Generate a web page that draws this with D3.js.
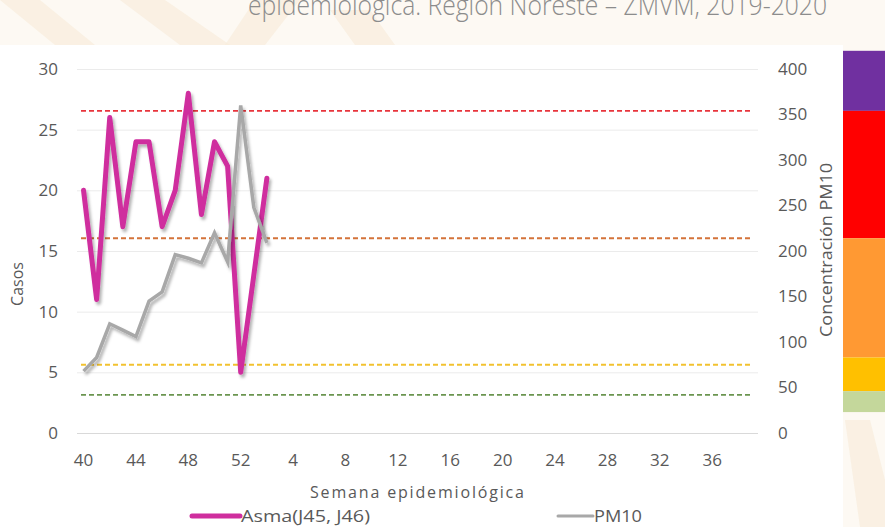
<!DOCTYPE html>
<html>
<head>
<meta charset="utf-8">
<script src="https://cdn.jsdelivr.net/npm/d3@7"></script>
<style>
  html, body { margin: 0; padding: 0; background: #fff; }
  svg { display: block; font-family: "Open Sans", sans-serif; }
</style>
</head>
<body>
<svg id="canvas"></svg>
<script>
// ---- data ----
const weeks = [40, 41, 42, 43, 44, 45, 46, 47, 48, 49, 50, 51, 52,
  1, 2, 3, 4, 5, 6, 7, 8, 9, 10, 11, 12, 13, 14, 15, 16, 17, 18, 19, 20,
  21, 22, 23, 24, 25, 26, 27, 28, 29, 30, 31, 32, 33, 34, 35, 36, 37, 38, 39];
// casos de asma, semana 40 (2019) a semana 2 (2020)
const asma = [20, 11, 26, 17, 24, 24, 17, 20, 28, 18, 24, 22, 5, 13, 21];
// concentracion PM10, mismas semanas
const pm10 = [68, 83, 120, 113, 106, 145, 155, 196, 192, 187, 220, 188, 360, 248, 209];
const casosTicks = [0, 5, 10, 15, 20, 25, 30];
const pmTicks = [0, 50, 100, 150, 200, 250, 300, 350, 400];
// umbrales PM10 (lineas punteadas, eje derecho)
const umbrales = [354, 214, 75, 42];
const umbralColors = ["#e8343c", "#d4733a", "#f2c230", "#6b9550"];
// franjas de color a la derecha (cortes aproximados)
const bandStops = [420, 354, 214, 83, 46, 23];
const bandColors = ["#7030a0", "#ff0000", "#ff9933", "#ffc000", "#c4d79b"];

const W = 885, H = 527;
const svg = d3.select("#canvas").attr("width", W).attr("height", H);

// fondo + marca de agua
svg.append("rect").attr("width", W).attr("height", H).attr("fill", "#fdf9f3");
const wm = [
  [[0, 0], [40, 0], [95, 45], [55, 45]],
  [[120, 0], [165, 0], [230, 45], [180, 45]],
  [[255, 0], [300, 0], [265, 45], [225, 45]],
  [[330, 10], [370, 10], [395, 45], [355, 45]],
  [[845, 420], [870, 420], [885, 480], [885, 527], [860, 527]]
];
svg.selectAll("polygon.wm").data(wm).enter().append("polygon")
  .attr("class", "wm")
  .attr("points", d => d.map(p => p.join(",")).join(" "))
  .attr("fill", "#f8eddc").attr("opacity", 0.7);
svg.append("rect").attr("x", 0).attr("y", 45).attr("width", 843).attr("height", H - 45).attr("fill", "#ffffff");

// titulo (cortado arriba, como en la diapositiva)
svg.append("text")
  .attr("x", 248).attr("y", 15)
  .attr("textLength", 579).attr("lengthAdjust", "spacingAndGlyphs")
  .attr("font-size", 28).attr("font-weight", 300).attr("fill", "#8c8c8c")
  .text("epidemiológica. Región Noreste – ZMVM, 2019-2020");

// escalas
const x = d3.scaleBand().domain(d3.range(weeks.length)).range([77, 758]);
const xc = i => x(i) + x.bandwidth() / 2;
const yL = d3.scaleLinear().domain([0, 30]).range([433, 69]);
const yR = d3.scaleLinear().domain([0, 400]).range([433, 69]);

// franjas de color a la derecha
const bandData = bandColors.map((c, i) => ({ c, top: bandStops[i], bot: bandStops[i + 1] }));
svg.selectAll("rect.band").data(bandData).enter().append("rect")
  .attr("class", "band")
  .attr("x", 843).attr("width", W - 843)
  .attr("y", d => yR(d.top)).attr("height", d => yR(d.bot) - yR(d.top))
  .attr("fill", d => d.c);

// lineas de cuadricula
svg.append("g").selectAll("line").data(casosTicks).enter().append("line")
  .attr("x1", 77).attr("x2", 758)
  .attr("y1", d => yL(d) + 0.5).attr("y2", d => yL(d) + 0.5)
  .attr("stroke", d => d === 0 ? "#d9d9d9" : "#ebebeb").attr("stroke-width", 1);

// umbrales punteados
svg.append("g").selectAll("line").data(umbrales).enter().append("line")
  .attr("x1", 81).attr("x2", 751)
  .attr("y1", d => yR(d)).attr("y2", d => yR(d))
  .attr("stroke", (d, i) => umbralColors[i]).attr("stroke-width", 1.8)
  .attr("stroke-dasharray", "5,3");

// ejes
const tickColor = "#595959";
const gL = svg.append("g").attr("transform", "translate(58,0)")
  .call(d3.axisLeft(yL).tickValues(casosTicks).tickSize(0).tickPadding(0));
const gR = svg.append("g").attr("transform", "translate(778,0)")
  .call(d3.axisRight(yR).tickValues(pmTicks).tickSize(0).tickPadding(0));
const gX = svg.append("g").attr("transform", "translate(0,441)")
  .call(d3.axisBottom(x).tickValues(d3.range(0, 49, 4)).tickFormat(i => weeks[i]).tickSize(0).tickPadding(13));
[gL, gR, gX].forEach(g => {
  g.select(".domain").remove();
  g.selectAll("text").attr("font-size", 17).attr("fill", tickColor)
    .attr("font-family", "'Open Sans', sans-serif");
});

// sombra
const defs = svg.append("defs");
const f = defs.append("filter").attr("id", "shadow")
  .attr("x", "-20%").attr("y", "-20%").attr("width", "140%").attr("height", "140%");
f.append("feDropShadow").attr("dx", 2).attr("dy", 3).attr("stdDeviation", 1.6)
  .attr("flood-color", "#000").attr("flood-opacity", 0.3);

// series
const lineL = d3.line().x((d, i) => xc(i)).y(d => yL(d));
const lineR = d3.line().x((d, i) => xc(i)).y(d => yR(d));
svg.append("path").datum(asma).attr("d", lineL)
  .attr("fill", "none").attr("stroke", "#cf2e9e").attr("stroke-width", 5)
  .attr("stroke-linejoin", "round").attr("stroke-linecap", "round")
  .attr("filter", "url(#shadow)");
svg.append("path").datum(pm10).attr("d", lineR)
  .attr("fill", "none").attr("stroke", "#a8a8a8").attr("stroke-width", 3.5)
  .attr("stroke-linejoin", "miter")
  .attr("filter", "url(#shadow)");

// titulos de ejes
svg.append("text").attr("transform", "translate(23,284) rotate(-90)")
  .attr("text-anchor", "middle").attr("font-size", 16).attr("fill", tickColor)
  .text("Casos");
svg.append("text").attr("transform", "translate(832,250) rotate(-90)")
  .attr("text-anchor", "middle").attr("font-size", 16).attr("fill", tickColor)
  .attr("textLength", 174).attr("lengthAdjust", "spacingAndGlyphs")
  .text("Concentración PM10");
svg.append("text").attr("x", 417).attr("y", 498)
  .attr("text-anchor", "middle").attr("font-size", 16).attr("fill", tickColor)
  .attr("textLength", 214).attr("lengthAdjust", "spacing")
  .text("Semana epidemiológica");

// leyenda
const legend = [
  { name: "Asma(J45, J46)", color: "#cf2e9e", w: 5, x1: 192, x2: 240, len: 129 },
  { name: "PM10", color: "#a8a8a8", w: 3, x1: 558, x2: 593, len: 48 }
];
const lg = svg.append("g").selectAll("g").data(legend).enter().append("g");
lg.append("line").attr("x1", d => d.x1).attr("x2", d => d.x2)
  .attr("y1", 516).attr("y2", 516)
  .attr("stroke", d => d.color).attr("stroke-width", d => d.w).attr("stroke-linecap", "round");
lg.append("text").attr("x", d => d.x2 + 1).attr("y", 522)
  .attr("font-size", 16).attr("fill", tickColor)
  .attr("textLength", d => d.len).attr("lengthAdjust", "spacingAndGlyphs")
  .text(d => d.name);
</script>
</body>
</html>
